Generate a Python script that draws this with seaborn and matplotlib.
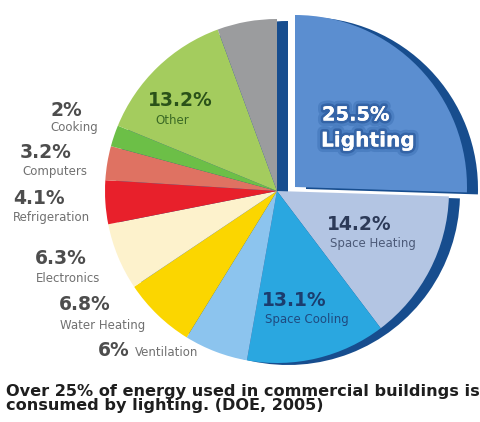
import matplotlib
matplotlib.use("Agg")
import matplotlib.pyplot as plt
import matplotlib.patheffects as pe
from matplotlib.patches import Wedge
import seaborn as sns

# Commercial building energy end uses (DOE, 2005), percent of total
categories = ["Lighting", "Space Heating", "Space Cooling", "Ventilation",
              "Water Heating", "Electronics", "Refrigeration", "Computers",
              "Cooking", "Other", "Unlisted"]
shares = [25.5, 14.2, 13.1, 6.0, 6.8, 6.3, 4.1, 3.2, 2.0, 13.2, 5.6]
pct_labels = ["25.5%", "14.2%", "13.1%", "6%", "6.8%", "6.3%", "4.1%",
              "3.2%", "2%", "13.2%", ""]
colors = ["#5b8ed0", "#b3c5e3", "#2aa7e0", "#8cc4ee", "#fbd600", "#fdf2cc",
          "#e8202b", "#df7262", "#6cbf47", "#a4cc5e", "#9b9c9e"]

sns.set_theme(style="white")
plt.rcParams["font.family"] = ["DejaVu Sans"]

W, H = 480, 422
fig = plt.figure(figsize=(W / 100, H / 100), dpi=100)
ax = fig.add_axes([0, 0, 1, 1])

cx, cy, R = 277, H - 191, 172
rim = "#174d8e"
depth = (11, -2)

wedges, _ = ax.pie(shares, colors=colors, startangle=90, counterclock=False,
                   center=(cx, cy), radius=R, frame=True,
                   wedgeprops=dict(linewidth=0))
for w in wedges:
    w.set_zorder(3)

# pull the lighting slice out toward the upper right
light = wedges[0]
lc = (cx + 18, cy + 4)
light.set_center(lc)
light.set_zorder(4)

# dark side faces that give the pie its depth
ax.add_patch(Wedge((lc[0] + depth[0], lc[1] + depth[1]), R,
                   light.theta1, light.theta2, color=rim, lw=0, zorder=2))
ax.add_patch(Wedge((cx + depth[0], cy + depth[1]), R,
                   light.theta2, light.theta1 + 360, color=rim, lw=0, zorder=1))

ax.set_xlim(0, W)
ax.set_ylim(0, H)
ax.set_aspect("equal")
ax.axis("off")

grey_pct = "#4d4d4d"
grey_name = "#707070"
pct_font = dict(fontsize=13.5, fontweight="bold", va="center", ha="left")
name_font = dict(fontsize=8.5, va="center", ha="left")

# (x, y) of percentage and category text, in pixels from the top left
outside = {
    "Cooking": ((50, 111), (50, 128)),
    "Computers": ((20, 153), (22, 172)),
    "Refrigeration": ((13, 198), (13, 217)),
    "Electronics": ((35, 259), (36, 278)),
    "Water Heating": ((59, 305), (60, 325)),
}
for i, name in enumerate(categories):
    if name in outside:
        (px, py), (nx, ny) = outside[name]
        ax.text(px, H - py, pct_labels[i], color=grey_pct, **pct_font)
        ax.text(nx, H - ny, name, color=grey_name, **name_font)

iv = categories.index("Ventilation")
ax.text(98, H - 351, pct_labels[iv], color=grey_pct, **pct_font)
ax.text(135, H - 352, categories[iv], color=grey_name, **name_font)

io = categories.index("Other")
ax.text(148, H - 100, pct_labels[io], color="#2a5219", **pct_font)
ax.text(155, H - 120, categories[io], color="#3b6a25", **name_font)

ih = categories.index("Space Heating")
ax.text(327, H - 225, pct_labels[ih], color="#2c3a58", **pct_font)
ax.text(330, H - 244, categories[ih], color="#4c5a78", **name_font)

ic = categories.index("Space Cooling")
ax.text(262, H - 300, pct_labels[ic], color="#1b3d6e", **pct_font)
ax.text(265, H - 319, categories[ic], color="#1f4a80", **name_font)

glow = [pe.withStroke(linewidth=8, foreground="#2f63a8", alpha=0.35),
        pe.withStroke(linewidth=4, foreground="#224f92", alpha=0.55),
        pe.Normal()]
ax.text(322, H - 115, pct_labels[0], color="white", fontsize=14,
        fontweight="bold", va="center", ha="left", zorder=6, path_effects=glow)
ax.text(321, H - 141, categories[0], color="white", fontsize=14.5,
        fontweight="bold", va="center", ha="left", zorder=6, path_effects=glow)

fig.text(6 / W, 1 - 384 / H,
         "Over 25% of energy used in commercial buildings is\n"
         "consumed by lighting. (DOE, 2005)",
         fontsize=11.6, fontweight="bold", color="#1e1e1e",
         ha="left", va="top", linespacing=0.95)

fig.savefig("out.png", dpi=100, facecolor="white")
